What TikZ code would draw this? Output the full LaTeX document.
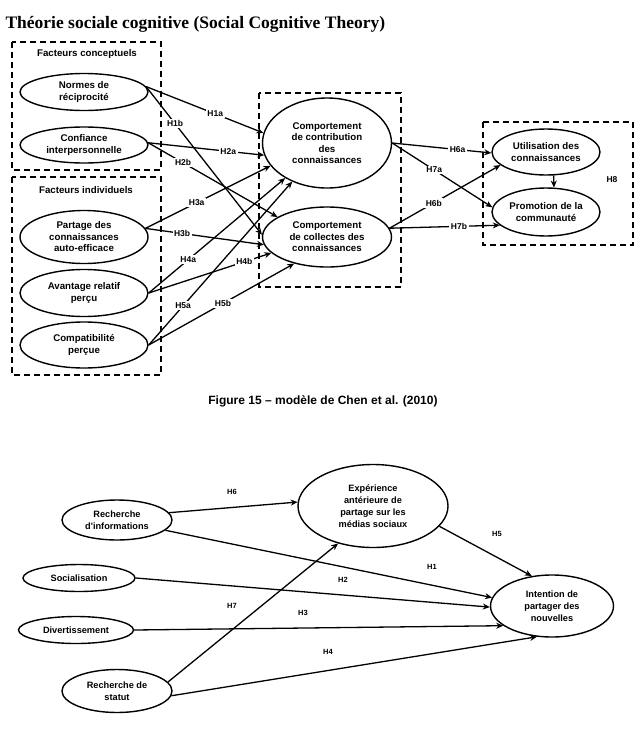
\documentclass[tikz,border=0pt]{standalone}
\usepackage{fontspec}
\newfontfamily\arialf{Liberation Sans}
\newfontfamily\timesf{Liberation Serif}
\usetikzlibrary{arrows.meta,shapes.geometric}

\begin{document}
\begin{tikzpicture}[x=1pt, y=-1pt,
  var/.style={ellipse, draw, line width=1.4pt, inner sep=0pt, align=center, font=\arialf\bfseries\fontsize{9.7}{11.5}\selectfont},
  varb/.style={var, font=\arialf\bfseries\fontsize{9.2}{12}\selectfont},
  hyp/.style={font=\arialf\bfseries\fontsize{8.5}{10}\selectfont, inner sep=1.5pt},
  hypb/.style={hyp, font=\arialf\bfseries\fontsize{7.5}{9}\selectfont},
  hypw/.style={hyp, fill=white},
  arr/.style={-{Stealth[length=7pt,width=6pt]}, line width=1.3pt},
  grp/.style={dash pattern=on 6pt off 4pt, line width=1.4pt},
  grplbl/.style={font=\arialf\bfseries\fontsize{9.7}{11}\selectfont}
]
\useasboundingbox (0,0) rectangle (639,737);

\node[anchor=west, font=\timesf\bfseries\fontsize{17.5}{20}\selectfont] (title) at (2,24) {Théorie sociale cognitive (Social Cognitive Theory)};

% groupes
\draw[grp] (12,42) rectangle (161,170);
\draw[grp] (12,177) rectangle (161,375);
\draw[grp] (259,93) rectangle (401,287);
\draw[grp] (483,122) rectangle (633,245);
\node[grplbl] (gconc) at (87,54) {Facteurs conceptuels};
\node[grplbl] (gind) at (86,190) {Facteurs individuels};

\node[var, minimum width=128pt, minimum height=37pt] (norm) at (84,92) {Normes de\\réciprocité};
\node[var, minimum width=128pt, minimum height=36pt] (conf) at (84,145) {Confiance\\interpersonnelle};
\node[var, minimum width=128pt, minimum height=53pt] (part) at (84,237) {Partage des\\connaissances\\auto-efficace};
\node[var, minimum width=128pt, minimum height=47pt] (avan) at (84,293) {Avantage relatif\\perçu};
\node[var, minimum width=128pt, minimum height=46pt] (compa) at (84,345) {Compatibilité\\perçue};
\node[var, minimum width=129pt, minimum height=90pt] (contrib) at (327,143) {Comportement\\de contribution\\des\\connaissances};
\node[var, minimum width=129pt, minimum height=60pt] (collect) at (327,237) {Comportement\\de collectes des\\connaissances};
\node[var, minimum width=108pt, minimum height=46pt] (util) at (546,152) {Utilisation des\\connaissances};
\node[var, minimum width=108pt, minimum height=48pt] (promo) at (546,212) {Promotion de la\\communauté};

\foreach \a/\b/\h/\p in {norm.5/contrib.171/H1a/0.59, norm.5/collect.178/H1b/0.25,
    conf.2/contrib.191/H2a/0.69, conf.2/collect.158/H2b/0.27,
    part.8/contrib.202/H3a/0.41, part.8/collect.187/H3b/0.31,
    avan.east/contrib.220/H4a/0.29, avan.east/collect.196/H4b/0.78,
    compa.east/contrib.228/H5a/0.24, compa.east/collect.219/H5b/0.51,
    contrib.east/util.181/H6a/0.66, contrib.east/promo.175/H7a/0.42,
    collect.8/util.196/H6b/0.40, collect.8/promo.196/H7b/0.63}
  \draw[arr] (\a) -- node[hypw, pos=\p] {\h} (\b);

\draw[arr] (util.-72) -- (promo.72);
\node[hyp] (h8) at (612,180) {H8};

\node[font=\arialf\bfseries\fontsize{12}{14}\selectfont] (cap) at (323,401) {Figure 15 – modèle de Chen et al. (2010)};

% second modele
\node[varb, minimum width=110pt, minimum height=40pt] (ri) at (117,520) {Recherche\\d'informations};
\node[varb, minimum width=150pt, minimum height=83pt] (exp) at (373,506) {Expérience\\antérieure de\\partage sur les\\médias sociaux};
\node[varb, minimum width=123pt, minimum height=62pt] (intent) at (552,606) {Intention de\\partager des\\nouvelles};
\node[varb, minimum width=112pt, minimum height=27pt] (soc) at (79,578) {Socialisation};
\node[varb, minimum width=115pt, minimum height=27pt] (div) at (76,630) {Divertissement};
\node[varb, minimum width=110pt, minimum height=43pt] (rs) at (117,691) {Recherche de\\statut};

\foreach \a/\b in {ri.8/exp.177, ri.-12/intent.172, exp.-17/intent.124, soc.east/intent.181,
    div.east/intent.202, rs.-5/intent.244, rs.10/exp.227}
  \draw[arr] (\a) -- (\b);

\node[hypb] (h6) at (232,492) {H6};
\node[hypb] (h5) at (497,534) {H5};
\node[hypb] (h1) at (432,567) {H1};
\node[hypb] (h2) at (343,580) {H2};
\node[hypb] (h7) at (232,606) {H7};
\node[hypb] (h3) at (303,613) {H3};
\node[hypb] (h4) at (328,652) {H4};

\end{tikzpicture}
\end{document}
